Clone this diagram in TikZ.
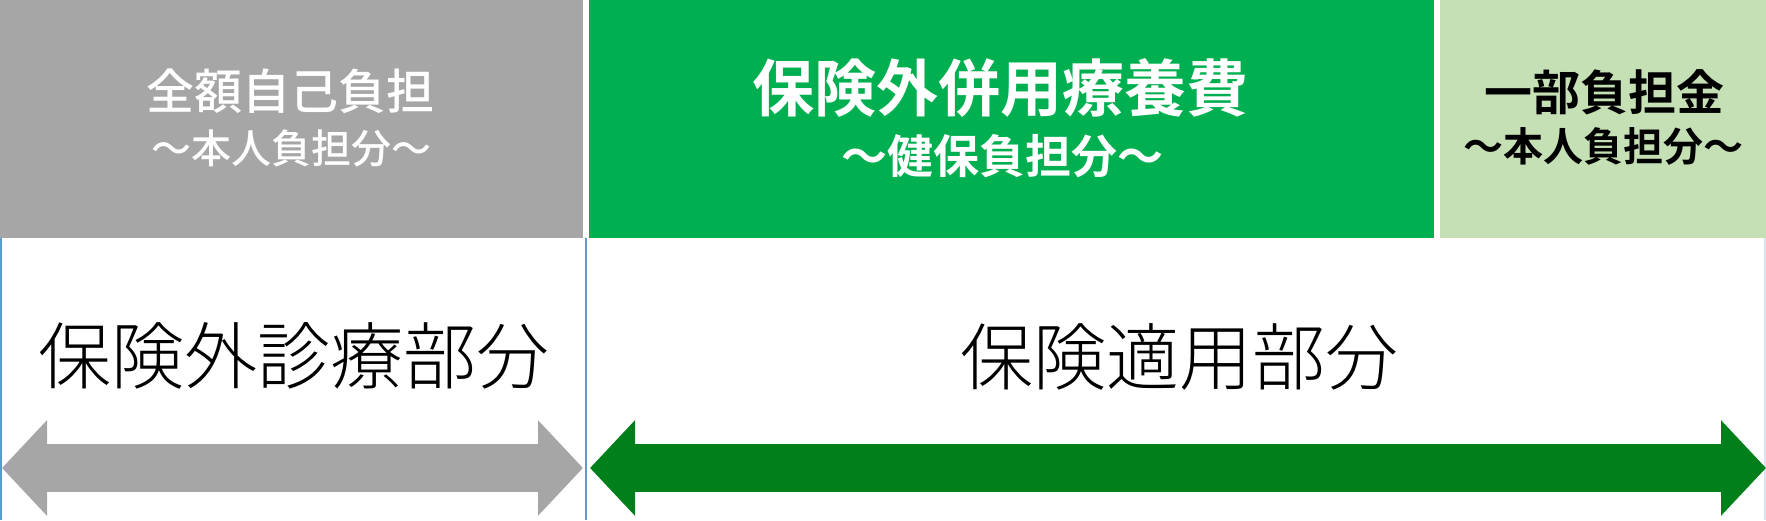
\documentclass[tikz,border=0pt]{standalone}
\usepackage{fontspec}
\usepackage{xcolor}
\newfontfamily\jpfont[BoldFont={Noto Sans CJK JP Bold}]{Noto Sans CJK JP}
\newfontfamily\jpmedium{Noto Sans CJK JP Medium}
\newfontfamily\jplight{Noto Sans CJK JP Light}
\usetikzlibrary{arrows.meta, positioning}
\definecolor{jihi}{HTML}{A6A6A6}
\definecolor{heiyo}{HTML}{00B050}
\definecolor{ichibu}{HTML}{C5E0B4}
\definecolor{tekiyo}{HTML}{007F1A}
\definecolor{kugiri}{HTML}{5B9BD5}

\begin{document}
\begin{tikzpicture}[x=1pt, y=1pt,
    box/.style={inner sep=0pt, outer sep=0pt, anchor=north west, minimum height=238pt},
    lbl/.style={inner sep=0pt, font=\jpmedium\fontsize{#1}{#1}\selectfont},
    blbl/.style={inner sep=0pt, font=\jpfont\bfseries\fontsize{#1}{#1}\selectfont},
    big/.style={inner sep=0pt, font=\jplight\fontsize{73}{73}\selectfont},
    kugirisen/.style={draw=kugiri, line width=1.2pt},
    bararrow/.style={line width=48pt,
      {Triangle[length=45pt, width=93pt]}-{Triangle[length=45pt, width=93pt]}}]
  \useasboundingbox (0,0) rectangle (1766,520);

  % Boxes on top
  \node[box, fill=jihi, minimum width=583pt] (zengaku) at (0,520) {};
  \node[box, fill=heiyo, minimum width=845pt] (heiyohi) at (589,520) {};
  \node[box, fill=ichibu, minimum width=326pt] (ichibukin) at (1440,520) {};

  % Box texts
  \node[lbl=48, text=white] (zengaku-t) at (290,429) {全額自己負担};
  \node[lbl=40, text=white] (zengaku-s) at (291,372) {～本人負担分～};
  \node[blbl=62, text=white] (heiyohi-t) at (1000,432) {保険外併用療養費};
  \node[blbl=46, text=white] (heiyohi-s) at (1002,364) {～健保負担分～};
  \node[blbl=48] (ichibukin-t) at (1604,428) {一部負担金};
  \node[blbl=40] (ichibukin-s) at (1603,374) {～本人負担分～};

  % Separator lines
  \coordinate (sen1) at (1,0);
  \coordinate (sen2) at (586,0);
  \coordinate (sen3) at (1765,0);
  \draw[kugirisen] (zengaku.south west -| sen1) -- (sen1);
  \draw[kugirisen] (zengaku.south west -| sen2) -- (sen2);
  \draw[kugirisen, draw=kugiri!25] (zengaku.south west -| sen3) -- (sen3);

  % Lower labels
  \node[big] (gai) at (294,164) {保険外診療部分};
  \node[big] (hoken) at (1179,163) {保険適用部分};

  % Range arrows
  \coordinate (gaiL) at (2,52);
  \coordinate (gaiR) at (583,52);
  \coordinate (hokenL) at (590,52);
  \coordinate (hokenR) at (1766,52);
  \draw[bararrow, draw=jihi, fill=jihi] (gaiL) -- (gaiR);
  \draw[bararrow, draw=tekiyo, fill=tekiyo] (hokenL) -- (hokenR);
\end{tikzpicture}
\end{document}
